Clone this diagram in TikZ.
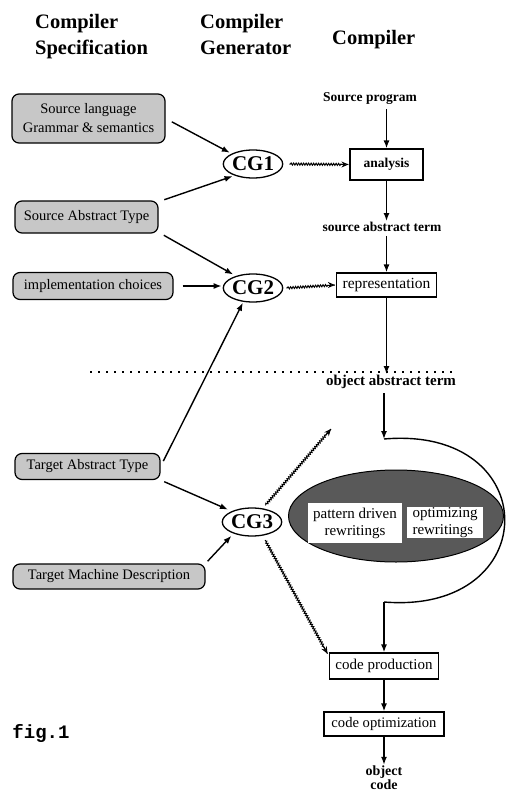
\documentclass[tikz,border=0pt]{standalone}
\usepackage{fontspec}
\setmainfont{Liberation Serif}
\newfontfamily\figmono{Liberation Mono}
\usetikzlibrary{arrows.meta,decorations.pathmorphing,shapes.geometric,calc}
\tikzset{
 spec/.style={draw, line width=1.2pt, rounded corners=7pt, fill=black!22, inner sep=0pt, align=center, font=\fontsize{14.5}{19}\selectfont},
 cg/.style={draw, ellipse, line width=1.3pt, fill=white, minimum width=58pt, minimum height=28pt, inner sep=0pt, font=\bfseries\fontsize{21}{21}\selectfont},
 stage/.style={draw, line width=1.2pt, fill=white, inner sep=0pt, font=\fontsize{14.5}{17}\selectfont},
 lbl/.style={font=\bfseries\fontsize{13.5}{15}\selectfont, inner sep=1pt},
 hdr/.style={font=\bfseries\fontsize{20.5}{28}\selectfont, inner sep=0pt, anchor=base west},
 arr/.style={-{Latex[length=8pt,width=6pt]}, line width=1.4pt},
 plain/.style={line width=1.4pt},
 wave/.style={decorate, decoration={snake, amplitude=1pt, segment length=2.5pt, pre length=1pt, post length=7pt}, line width=1pt},
 wavetip/.style={-{Stealth[length=7pt,width=6pt,fill=gray!60]}, line width=1pt},
 sep/.style={line width=1.6pt, dash pattern=on 1.6pt off 6.4pt},
 inbox/.style={fill=white, inner sep=0pt, align=center, font=\fontsize{15}{17}\selectfont},
}
\begin{document}
\begin{tikzpicture}[x=1pt,y=-1pt]
\useasboundingbox (0,0) rectangle (510,795);
% headers
\node[hdr] (h1a) at (35,28) {Compiler};
\node[hdr] (h1b) at (35,54) {Specification};
\node[hdr] (h2a) at (200,28) {Compiler};
\node[hdr] (h2b) at (200,54) {Generator};
\node[hdr] (h3) at (332,44) {Compiler};
% specification boxes
\node[spec, minimum width=153pt, minimum height=49pt] (sl) at (88.5,118.5) {Source language\\Grammar \& semantics};
\node[spec, minimum width=143pt, minimum height=32pt] (sat) at (86.5,217) {Source Abstract Type};
\node[spec, minimum width=160pt, minimum height=27pt] (impl) at (93,286) {implementation choices};
\node[spec, minimum width=145pt, minimum height=26pt] (tat) at (87.5,466.5) {Target Abstract Type};
\node[spec, minimum width=192pt, minimum height=25pt] (tmd) at (109,576.5) {Target Machine Description};
% generators
\node[cg] (cg1) at (253,164) {CG1};
\node[cg] (cg2) at (253,288) {CG2};
\node[cg] (cg3) at (252,522) {CG3};
% compiler column
\node[lbl] (sp) at (370,99) {Source program};
\node[stage, font=\bfseries\fontsize{13.5}{15}\selectfont, minimum width=73pt, minimum height=31pt] (ana) at (386.5,164.5) {analysis};
\node[lbl] (sab) at (382,227) {source abstract term};
\node[stage, font=\fontsize{15.5}{17}\selectfont, minimum width=100pt, minimum height=24pt] (rep) at (386.5,285) {representation};
\node[lbl, font=\bfseries\fontsize{15}{17}\selectfont] (oat) at (391,382) {object abstract term};
\node[draw, ellipse, line width=1pt, fill=black!65, minimum width=215pt, minimum height=92pt] (rw) at (396,516) {};
\node[inbox, minimum width=94pt, minimum height=40pt] (pdr) at (355,523) {pattern driven\\rewritings};
\node[inbox, minimum width=76pt, minimum height=31pt, align=left] (opt) at (445,522.5) {optimizing\\rewritings};
\node[stage, font=\fontsize{15}{17}\selectfont, minimum width=109pt, minimum height=26pt] (cp) at (384,666) {code production};
\node[stage, font=\fontsize{14.6}{17}\selectfont, minimum width=120pt, minimum height=24pt] (co) at (384,724) {code optimization};
\node[lbl, font=\bfseries\fontsize{14}{14}\selectfont, align=center, anchor=south, inner sep=0pt] (oc) at (384,790) {object\\code};
\node[font=\figmono\bfseries\fontsize{19}{19}\selectfont, inner sep=0pt] (fig) at (41,733) {fig.1};
% separator
\draw[sep] (90,372) -- (452,372);
% spec -> generator arrows
\draw[arr, shorten <=7pt, shorten >=2pt] (sl.east) -- (cg1.north west);
\draw[arr, shorten <=6pt, shorten >=2pt] (sat.12) -- (cg1.212);
\draw[arr, shorten <=6pt, shorten >=3pt] (sat.-12) -- (cg2.145);
\draw[arr, shorten <=9pt, shorten >=1pt] (impl.east) -- (impl.east -| cg2.west);
\draw[arr, shorten <=6pt, shorten >=1pt] (tat.east) -- (cg2.235);
\draw[arr, shorten <=4pt, shorten >=4pt] (tat.south east) -- (cg3.152);
\draw[arr, shorten <=3pt, shorten >=3pt] (tmd.north east) -- (cg3.212);
% generator -> compiler wavy arrows
\coordinate (up) at (331,429);
\coordinate (w1a) at ($(cg1.east)+(6,0)$);
\coordinate (w1b) at ($(ana.west)+(-1,0)$);
\coordinate (w2a) at ($(cg2.east)+(3,0)$);
\coordinate (w2b) at ($(rep.west)+(-1,0)$);
\coordinate (w3a) at ($(cg3.52)!4pt!(up)$);
\coordinate (w4a) at ($(cg3.-52)!5pt!(cp.170)$);
\coordinate (w4b) at ($(cp.170)!3pt!(cg3.-52)$);
\draw[wave] (w1a) -- (w1b);
\draw[wavetip] ($(w1b)+(-8,0)$) -- (w1b);
\draw[wave] (w2a) -- (w2b);
\draw[wavetip] ($(w2b)+(-8,0)$) -- (w2b);
\draw[wave] (w3a) -- (up);
\draw[wavetip] ($(up)!8pt!(w3a)$) -- (up);
\draw[wave] (w4a) -- (w4b);
\draw[wavetip] ($(w4b)!8pt!(w4a)$) -- (w4b);
% compiler pipeline
\coordinate (ltop) at (384,439);
\coordinate (lbot) at (384,602);
\draw[arr, shorten <=3pt] (ana.north |- sp.south) -- (ana.north);
\draw[arr] (ana.south) -- (ana.south |- sab.north);
\draw[arr, shorten <=3pt] (rep.north |- sab.south) -- (rep.north);
\draw[arr] (rep.south) -- (rep.south |- oat.north);
\draw[arr, shorten <=3pt] (ltop |- oat.south) -- (ltop);
\draw[plain] (ltop) .. controls (545,425) and (545,615) .. (lbot);
\draw[arr] (lbot) -- (lbot |- cp.north);
\draw[arr] (cp.south) -- (cp.south |- co.north);
\draw[arr, shorten >=1pt] (co.south) -- (co.south |- oc.north);
\end{tikzpicture}
\end{document}
